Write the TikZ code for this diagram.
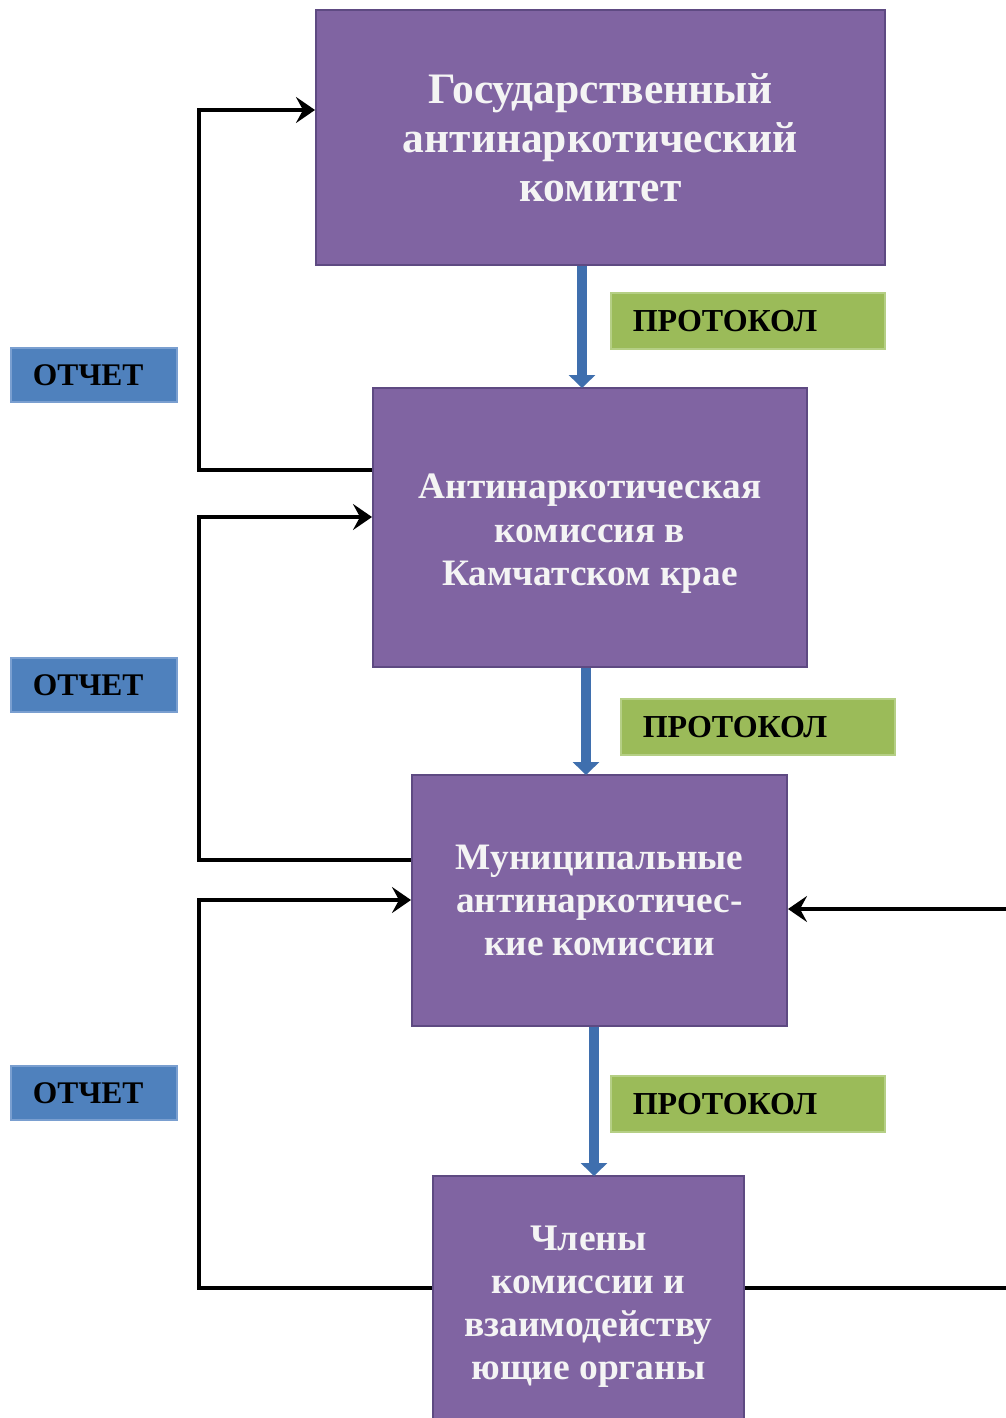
\documentclass[tikz,border=0pt]{standalone}
\usepackage{fontspec}
\setmainfont{Liberation Serif}
\usetikzlibrary{arrows.meta}
\definecolor{purp}{HTML}{8064A2}
\definecolor{purpline}{HTML}{5E4A82}
\definecolor{grn}{HTML}{9BBB59}
\definecolor{grnline}{HTML}{B5CF85}
\definecolor{blu}{HTML}{4F81BD}
\definecolor{bluline}{HTML}{7A9FD0}
\definecolor{arrblu}{HTML}{3F6FAE}
\definecolor{txtw}{HTML}{F4F4F4}
\begin{document}
\begin{tikzpicture}[x=1pt,y=-1pt,
  pbox/.style={draw=purpline, line width=2pt, fill=purp, text=txtw, align=center, inner sep=0pt},
  gbox/.style={draw=grnline, line width=1.5pt, fill=grn, anchor=north west, minimum height=56pt,
    inner xsep=22pt, text width=230pt, align=left, font=\bfseries\fontsize{32}{34}\selectfont},
  obox/.style={draw=bluline, line width=1.5pt, fill=blu, anchor=north west, minimum height=54pt,
    inner xsep=22pt, text width=122pt, align=left, font=\bfseries\fontsize{31.5}{33}\selectfont},
  conn/.style={line width=4.5pt, -{Stealth[length=19pt,width=26pt,inset=7pt]}},
  flow/.style={line width=10pt, draw=arrblu, -{Triangle[length=13pt,width=26pt]}, shorten >=-1pt}
]
\useasboundingbox (0,0) rectangle (1005,1418);
\fill[white] (0,0) rectangle (1005,1418);

\node[pbox, minimum width=569pt, minimum height=255pt, font=\bfseries\fontsize{43.5}{49}\selectfont] (b1) at (600.5,137.5)
  {Государственный\\антинаркотический\\комитет};
\node[pbox, minimum width=434pt, minimum height=279pt, font=\bfseries\fontsize{37.3}{43.5}\selectfont] (b2) at (590,527.5)
  {\\[-6pt]Антинаркотическая\\комиссия в\\Камчатском крае};
\node[pbox, minimum width=375pt, minimum height=251pt, font=\bfseries\fontsize{37.3}{43}\selectfont] (b3) at (599.5,900.5)
  {Муниципальные\\антинаркотичес-\\кие комиссии};
\node[pbox, minimum width=311pt, minimum height=250pt, font=\bfseries\fontsize{37.5}{43}\selectfont] (b4) at (588.5,1301)
  {\\[-7pt]Члены\\комиссии и\\взаимодейству\\ющие органы};

\node[gbox] (p1) at (610,292) {ПРОТОКОЛ};
\node[gbox] (p2) at (620,698) {ПРОТОКОЛ};
\node[gbox] (p3) at (610,1075) {ПРОТОКОЛ};

\node[obox] (o1) at (10,347) {ОТЧЕТ};
\node[obox] (o2) at (10,657) {ОТЧЕТ};
\node[obox] (o3) at (10,1065) {ОТЧЕТ};

\draw[flow] (b1.south -| 582,0) -- (b2.north -| 582,0);
\draw[flow] (b2.south -| 586,0) -- (b3.north -| 586,0);
\draw[flow] (b3.south -| 594,0) -- (b4.north -| 594,0);

\draw[conn] (b2.west |- 0,470) -- (199,470) |- (b1.west |- 0,110);
\draw[conn] (b3.west |- 0,860) -- (199,860) |- (b2.west |- 0,517);
\draw[conn] (b4.west |- 0,1288) -- (199,1288) |- (b3.west |- 0,900);
\draw[conn] (b4.east |- 0,1288) -- (1030,1288) |- (b3.east |- 0,909);
\end{tikzpicture}
\end{document}
